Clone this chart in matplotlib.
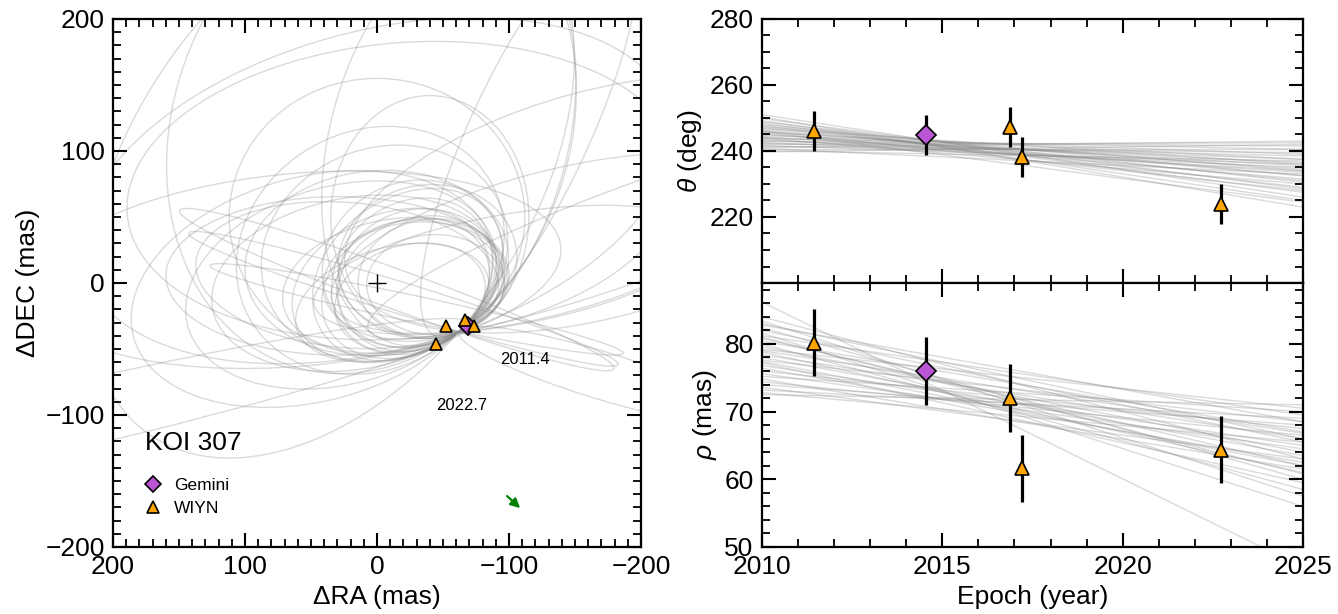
"""KOI 307 relative astrometry: sky-plane orbits plus theta / rho vs epoch."""
import numpy as np
import matplotlib
matplotlib.use("Agg")
import matplotlib.pyplot as plt
from matplotlib.patches import Ellipse
from matplotlib.ticker import MultipleLocator

plt.rcParams['font.family'] = ['Liberation Sans', 'DejaVu Sans']
plt.rcParams['mathtext.fontset'] = 'custom'
plt.rcParams['mathtext.it'] = 'Liberation Sans:italic'
plt.rcParams['mathtext.rm'] = 'Liberation Sans'

# --- measurements ---
epochs = [2011.45, 2014.54, 2016.88, 2017.20, 2022.72]
theta = [246.0, 244.8, 247.2, 238.2, 224.0]
theta_err = [6.0, 6.0, 6.0, 6.0, 6.0]
rho = [80.2, 76.0, 72.0, 61.6, 64.4]
rho_err = [5.0, 5.0, 5.0, 5.0, 5.0]
instrument = ['WIYN', 'Gemini', 'WIYN', 'WIYN', 'WIYN']

# --- apparent orbit draws (sky plane): centre RA, centre DEC, semi-axes, angle ---
orbit_ra = [-25.0, -31.0, -21.6, -40.4, -29.0, -11.6, -27.4, -13.2, -44.2, -38.2,
            -12.6, -33.9, 16.3, 27.4, 0.2, 29.9, -5.7, 22.6, 49.2, 5.1,
            -20.0, -15.0, -30.0, 250.0, -170.0, 35.0, -54.4, -170.0, -200.0, 60.0,
            -115.6, 4.2, -20.0, 0.0, 0.0, -40.0, -100.0, -130.0,
            -27.2, -23.2, -26.6]
orbit_dec = [-11.1, 1.1, -4.0, 3.3, 1.0, -14.9, 2.1, -1.8, -1.3, 16.3,
             -1.7, 3.6, -0.2, -1.5, 15.1, 5.4, 22.6, 6.0, -4.5, 24.7,
             -12.0, -5.0, -20.0, -105.0, -70.0, 82.0, 108.6, 60.0, 40.0, 10.0,
             114.3, 117.2, 70.0, 50.0, 70.0, 50.0, 10.0, 30.0,
             14.5, 6.4, 5.1]
orbit_a = [58, 62, 66, 55, 70, 75, 60, 80, 52, 68,
           85, 63, 110, 120, 100, 130, 95, 115, 140, 105,
           170, 175, 160, 330, 113, 240, 160, 200, 220, 200,
           170, 190, 210, 112, 230, 75, 150, 170,
           70, 78, 65]
orbit_b = [40, 48, 50, 45, 45, 42, 52, 55, 38, 58,
           50, 44, 65, 75, 70, 60, 80, 55, 85, 90,
           12, 15, 10, 25, 18, 150, 90, 86, 36, 73,
           45, 150, 112, 105, 121, 92, 42, 54,
           62, 58, 55]
orbit_pa = [-15, -20, -25, -10, -5, -15, -30, -20, 0, -10,
            -10, 5, -10, -15, -5, 0, -20, 5, -15, -30,
            17, 20, 12, -13, 17, -55, -75, -15, -20, -5,
            -65, -70, -5, 0, -15, 0, -10, -15,
            -25, -35, -40]

# --- theta / rho draws over 2010-2025 ---
line_years = [2010, 2025]
theta_start = [251.0, 250.3, 249.8, 249.2, 248.8, 248.4, 248.0, 247.7, 247.4, 247.1,
               246.8, 246.5, 246.2, 245.9, 245.6, 245.3, 245.0, 244.7, 244.4, 244.1,
               243.8, 243.5, 243.2, 242.9, 242.6, 242.3, 242.0, 241.7, 241.4, 241.1,
               240.8, 240.5, 240.1, 239.7, 246.0, 244.0]
theta_end = [226.0, 223.0, 228.5, 225.0, 230.5, 227.5, 232.5, 229.0, 234.0, 231.0,
             236.0, 232.5, 228.0, 234.5, 237.5, 231.5, 235.5, 239.0, 233.5, 236.5,
             240.5, 234.0, 237.5, 241.5, 235.0, 238.5, 242.5, 236.0, 239.5, 243.0,
             233.0, 240.5, 237.0, 242.0, 224.5, 230.0]
rho_start = [86.2, 84.0, 83.4, 82.8, 82.4, 82.0, 81.6, 81.2, 80.8, 80.4,
             80.0, 79.6, 79.2, 78.8, 78.4, 78.0, 77.6, 77.2, 76.8, 76.4,
             76.0, 75.6, 75.2, 74.8, 74.4, 74.0, 73.6, 73.2, 72.8, 72.5,
             81.0, 79.0, 77.4, 83.0]
rho_end = [47.0, 63.0, 57.5, 68.5, 60.0, 65.5, 56.0, 69.5, 62.0, 67.0,
           58.5, 64.0, 70.5, 61.0, 66.0, 63.5, 68.5, 59.5, 65.0, 62.5,
           67.5, 64.5, 70.0, 61.5, 66.5, 68.0, 63.0, 69.0, 65.5, 71.0,
           60.8, 66.8, 62.0, 66.0]

styles = {
    'Gemini': dict(marker='D', color='#BA55D3'),
    'WIYN': dict(marker='^', color='#FFA500'),
}
draw_color = (0.55, 0.55, 0.55)
FS = 19


def style_ticks(ax):
    ax.tick_params(which='both', direction='in', top=True, right=True, labelsize=FS)
    ax.tick_params(which='major', length=10, width=1.5, pad=6)
    ax.tick_params(which='minor', length=6, width=1.3)
    for sp in ax.spines.values():
        sp.set_linewidth(1.6)


fig = plt.figure(figsize=(13.38, 6.14), dpi=100)

# --- left: sky plane ---
ax = fig.add_axes([113 / 1338, 67 / 614, 528 / 1338, 528 / 614])
for xc, yc, a, b, pa in zip(orbit_ra, orbit_dec, orbit_a, orbit_b, orbit_pa):
    ax.add_patch(Ellipse((xc, yc), 2 * a, 2 * b, angle=pa, fill=False,
                         edgecolor=draw_color, alpha=0.32, lw=1.0, zorder=1))

t_rad = np.radians(theta)
ra = np.array(rho) * np.sin(t_rad)
dec = np.array(rho) * np.cos(t_rad)
ax.plot(0, 0, '+', color='k', ms=13, mew=1.0, zorder=3)
for name in ['Gemini', 'WIYN']:
    sel = [i for i, s in enumerate(instrument) if s == name]
    ax.plot(ra[sel], dec[sel], ls='none', ms=9, mec='k', mew=1.2,
            label=name, zorder=4, **styles[name])

ax.text(-112, -58, '2011.4', ha='center', va='center', fontsize=12)
ax.text(-64, -92.5, '2022.7', ha='center', va='center', fontsize=12)
ax.text(176, -121, 'KOI 307', ha='left', va='center', fontsize=19)
ax.annotate('', xy=(-110, -172), xytext=(-97, -160),
            arrowprops=dict(arrowstyle='-|>', color='green', lw=1.6, mutation_scale=14))
ax.legend(loc='lower left', bbox_to_anchor=(0.03, 0.045), frameon=False, fontsize=12.5,
          handletextpad=0.2, labelspacing=0.45, borderaxespad=0, markerscale=0.9)

ax.set_xlim(200, -200)
ax.set_ylim(-200, 200)
ax.set_aspect('equal')
ax.xaxis.set_major_locator(MultipleLocator(100))
ax.xaxis.set_minor_locator(MultipleLocator(10))
ax.yaxis.set_major_locator(MultipleLocator(100))
ax.yaxis.set_minor_locator(MultipleLocator(10))
ax.set_xlabel('ΔRA (mas)', fontsize=FS)
ax.set_ylabel('ΔDEC (mas)', fontsize=FS)
style_ticks(ax)

# --- right: theta and rho vs epoch ---
ax_t = fig.add_axes([762 / 1338, 331 / 614, 541 / 1338, 264 / 614])
ax_r = fig.add_axes([762 / 1338, 67 / 614, 541 / 1338, 264 / 614], sharex=ax_t)

for v0, v1 in zip(theta_start, theta_end):
    ax_t.plot(line_years, [v0, v1], color=draw_color, alpha=0.32, lw=1.0, zorder=1)
for v0, v1 in zip(rho_start, rho_end):
    ax_r.plot(line_years, [v0, v1], color=draw_color, alpha=0.32, lw=1.0, zorder=1)

for axx, vals, errs in [(ax_t, theta, theta_err), (ax_r, rho, rho_err)]:
    axx.errorbar(epochs, vals, yerr=errs, fmt='none', ecolor='k', elinewidth=2.3,
                 capsize=0, zorder=3)
    for i, name in enumerate(instrument):
        axx.plot(epochs[i], vals[i], ls='none', ms=10, mec='k', mew=1.2,
                 zorder=4, **styles[name])

ax_t.set_xlim(2010, 2025)
ax_t.set_ylim(200, 280)
ax_t.set_yticks([220, 240, 260, 280])
ax_t.yaxis.set_minor_locator(MultipleLocator(5))
ax_t.xaxis.set_major_locator(MultipleLocator(5))
ax_t.xaxis.set_minor_locator(MultipleLocator(1))
ax_t.set_ylabel(r'$\theta$ (deg)', fontsize=FS)

ax_r.set_ylim(50, 89)
ax_r.set_yticks([50, 60, 70, 80])
ax_r.yaxis.set_minor_locator(MultipleLocator(2))
ax_r.set_ylabel(r'$\rho$ (mas)', fontsize=FS)
ax_r.set_xlabel('Epoch (year)', fontsize=FS)
style_ticks(ax_t)
style_ticks(ax_r)
ax_t.tick_params(labelbottom=False)

fig.savefig('out.png', dpi=100)
